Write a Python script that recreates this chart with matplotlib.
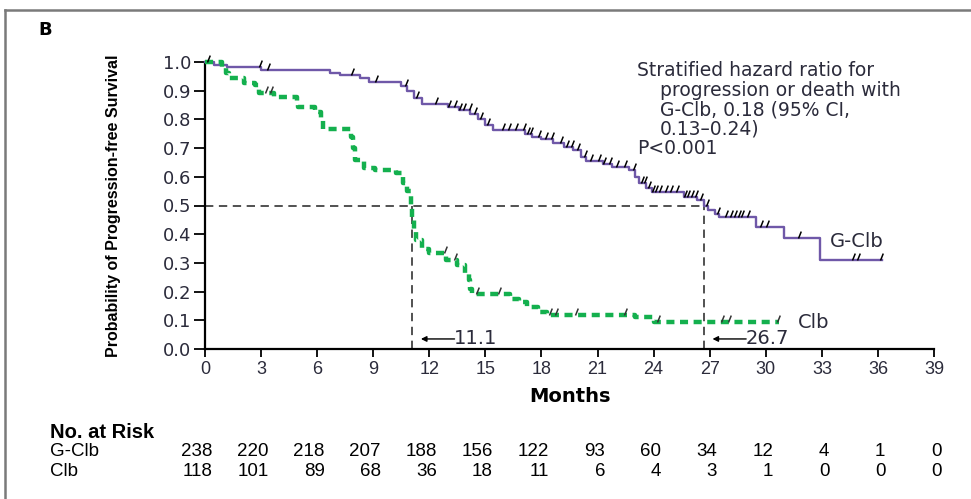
import numpy as np
import matplotlib
matplotlib.use("Agg")
import matplotlib.pyplot as plt
import matplotlib.transforms as mtrans
from matplotlib.path import Path
from matplotlib.lines import Line2D

# ---------------- data ----------------
gclb_t = [0, 0.5, 1.2, 3.0, 6.7, 7.2, 8.3, 8.8, 10.5, 10.8, 11.2, 11.6, 13.0, 13.6, 14.2, 14.6,
          15.0, 15.4, 17.1, 17.5, 18.0, 18.6, 19.2, 19.7, 20.1, 20.4, 21.3, 21.8, 22.7, 23.0,
          23.2, 23.6, 23.9, 25.6, 26.3, 26.7, 26.9, 27.3, 27.5, 29.5, 31.0, 32.9, 36.2]
gclb_s = [1.0, 0.99, 0.983, 0.973, 0.962, 0.955, 0.944, 0.93, 0.915, 0.90, 0.875, 0.855, 0.843,
          0.833, 0.82, 0.80, 0.78, 0.763, 0.75, 0.739, 0.73, 0.718, 0.705, 0.693, 0.67, 0.655,
          0.645, 0.634, 0.624, 0.60, 0.578, 0.56, 0.547, 0.53, 0.519, 0.50, 0.485, 0.47, 0.46,
          0.425, 0.387, 0.31, 0.31]
gclb_cens = [0.1, 2.9, 3.3, 7.8, 9.1, 10.7, 11.3, 12.3, 13.0, 13.3, 13.6, 13.8, 14.1, 14.4,
             14.7, 15.1, 15.9, 16.2, 16.6, 17.0, 17.2, 17.4, 17.8, 18.2, 18.5, 19.0, 19.3, 19.6,
             19.9, 20.3, 20.6, 21.0, 21.3, 21.6, 22.0, 22.4, 22.9, 23.3, 23.5, 23.7, 23.9, 24.1,
             24.3, 24.6, 24.9, 25.2, 25.6, 25.8, 26.0, 26.2, 26.5, 26.8, 27.4, 27.8, 28.1, 28.3,
             28.5, 28.7, 29.0, 29.7, 30.0, 31.7, 34.6, 34.9, 36.1]

clb_t = [0, 0.9, 1.1, 1.3, 2.1, 2.7, 2.9, 3.7, 4.9, 5.0, 5.9, 6.2, 6.3, 7.8, 7.9, 8.0, 8.5,
         9.1, 10.2, 10.6, 10.8, 11.0, 11.1, 11.2, 11.3, 11.6, 12.0, 12.9, 13.5, 13.9, 14.1,
         14.2, 14.3, 16.3, 16.8, 17.2, 17.8, 18.3, 23.0, 24.0, 30.7]
clb_s = [1.0, 0.983, 0.962, 0.944, 0.927, 0.92, 0.892, 0.878, 0.86, 0.843, 0.826, 0.80, 0.767,
         0.74, 0.70, 0.66, 0.63, 0.624, 0.613, 0.58, 0.55, 0.50, 0.45, 0.41, 0.38, 0.35, 0.334,
         0.31, 0.293, 0.26, 0.24, 0.21, 0.19, 0.175, 0.164, 0.146, 0.13, 0.12, 0.11, 0.094, 0.094]
clb_cens = [3.2, 3.5, 12.8, 13.3, 14.5, 15.7, 18.4, 18.7, 19.8, 22.4, 24.2, 27.6, 28.0, 30.6]

months_ticks = list(range(0, 40, 3))
risk_gclb = [238, 220, 218, 207, 188, 156, 122, 93, 60, 34, 12, 4, 1, 0]
risk_clb = [118, 101, 89, 68, 36, 18, 11, 6, 4, 3, 1, 0, 0, 0]
medians = [11.1, 26.7]

PURPLE = "#6f58a8"
GREEN = "#14b04e"
TXT = "#2b2b3b"
NARROW = ['Liberation Sans', 'DejaVu Sans']

plt.rcParams['lines.scale_dashes'] = False

fig = plt.figure(figsize=(9.71, 4.99), dpi=100)
ax = fig.add_axes([205/971, 1-349/499, (934-205)/971, (349-62)/499])
ax.set_xlim(0, 39)
ax.set_ylim(0, 1.0)

def surv_at(ts, ss, t):
    idx = np.searchsorted(ts, t, side='right') - 1
    return np.asarray(ss)[idx]

# censor tick marker: stroke from point going up-right
cens_marker = Path([(0, 0), (0.4, 1.0)], [Path.MOVETO, Path.LINETO])

# curves
ax.step(gclb_t, gclb_s, where='post', color=PURPLE, lw=1.7, clip_on=False, zorder=3)
ax.step(clb_t, clb_s, where='post', color=GREEN, lw=3.2, dashes=(5.8, 4.0),
        clip_on=False, zorder=3)

ax.plot(gclb_cens, surv_at(gclb_t, gclb_s, gclb_cens), ls='none', marker=cens_marker,
        ms=10, mew=1.1, color='black', clip_on=False, zorder=4)
ax.plot(clb_cens, surv_at(clb_t, clb_s, clb_cens), ls='none', marker=cens_marker,
        ms=10, mew=1.1, color='#333333', clip_on=False, zorder=4)

# median lines
ax.plot([0, medians[1]], [0.5, 0.5], color='#333333', lw=1.2, dashes=(6, 4), zorder=2)
for m in medians:
    ax.plot([m, m], [0, 0.5], color='#333333', lw=1.2, dashes=(6, 4), zorder=2)
    ax.annotate("", xy=(m + 0.45, 0.035), xytext=(m + 2.25, 0.035),
                arrowprops=dict(arrowstyle='-|>', color='black', lw=1.0,
                                mutation_scale=8, shrinkA=0, shrinkB=0))
    ax.text(m + 2.2, 0.035, f"{m}", color=TXT, fontsize=14, va='center', ha='left')

# spines / ticks
for s in ['top', 'right']:
    ax.spines[s].set_visible(False)
ax.spines['left'].set_linewidth(1.6)
ax.spines['bottom'].set_linewidth(1.6)
ax.set_xticks(months_ticks)
ax.set_yticks(np.round(np.arange(0, 1.01, 0.1), 1))
ax.set_yticklabels([f"{v:.1f}" for v in np.arange(0, 1.01, 0.1)])
ax.tick_params(axis='both', direction='out', width=1.3, colors='black', labelcolor=TXT)
ax.tick_params(axis='y', length=8, labelsize=13, pad=2)
ax.tick_params(axis='x', length=6, labelsize=12, pad=3)
for lab in ax.get_xticklabels():
    lab.set_family(NARROW)
    lab.set_fontsize(13)

ax.set_ylabel("Probability of Progression-free Survival", fontsize=11.5,
              family=NARROW, fontweight='bold', color='black')
ax.yaxis.set_label_coords(-(205-121)/729, 0.5)
ax.set_xlabel("Months", fontsize=14, fontweight='bold')
ax.xaxis.set_label_coords(0.5, -(397-349)/287)
ax.xaxis.label.set_va('center')

# series labels
ax.text(33.45, 0.376, "G-Clb", color=TXT, fontsize=14, va='center')
ax.text(31.7, 0.094, "Clb", color=TXT, fontsize=14, va='center')

# hazard text
hx = 23.1
ys = [0.972, 0.902, 0.833, 0.767, 0.697]
lines = ["Stratified hazard ratio for", "progression or death with", "G-Clb, 0.18 (95% CI,",
         "0.13\u20130.24)", "P<0.001"]
for i, line in enumerate(lines):
    x0 = hx if i in (0, 4) else hx + 1.25
    ax.text(x0, ys[i], line, color=TXT, fontsize=13.5, va='center', clip_on=False)

# panel label
fig.text(38/971, 1-30/499, "B", fontsize=13, fontweight='bold', va='center', ha='left')

# number at risk
fig.text(50/971, 1-432/499, "No. at Risk", fontsize=14.5, fontweight='bold', va='center',
         ha='left', family=NARROW)
fig.text(50/971, 1-452/499, "G-Clb", fontsize=13.5, va='center', ha='left', family=NARROW)
fig.text(50/971, 1-472/499, "Clb", fontsize=13.5, va='center', ha='left', family=NARROW)
blend = mtrans.blended_transform_factory(ax.transData, fig.transFigure)
for row, ypx in [(risk_gclb, 452), (risk_clb, 472)]:
    for m, n in zip(months_ticks, row):
        ax.text(m + 0.4, 1-ypx/499, str(n), transform=blend, fontsize=13.5,
                va='center', ha='right', family=NARROW)

# outer frame (top and left)
fig.add_artist(Line2D([5/971, 1], [1-10/499, 1-10/499], color='#7a7a7a', lw=1.8))
fig.add_artist(Line2D([5/971, 5/971], [0, 1-10/499], color='#7a7a7a', lw=1.8))

fig.savefig("out.png", dpi=100)
